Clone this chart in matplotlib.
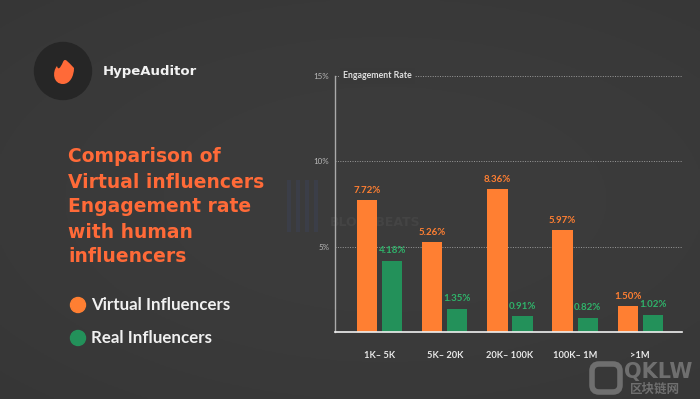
import numpy as np
import matplotlib
matplotlib.use("Agg")
import matplotlib.pyplot as plt
from matplotlib.patches import Circle, PathPatch, FancyBboxPatch
from matplotlib.path import Path

categories = ["1K\u2013 5K", "5K\u2013 20K", "20K\u2013 100K", "100K\u2013 1M", ">1M"]
virtual = [7.72, 5.26, 8.36, 5.97, 1.50]
real = [4.18, 1.35, 0.91, 0.82, 1.02]
yticks = [5, 10, 15]
ytick_labels = ["5%", "10%", "15%"]
series_names = ["Virtual Influencers", "Real Influencers"]

ORANGE = "#ff7f32"
GREEN = "#23915a"
TITLE_ORANGE = "#ff6a38"
BG = "#3a3a3a"
FONT = ["Lato", "DejaVu Sans"]
BOLDFONT = ["DejaVu Sans"]

fig = plt.figure(figsize=(7.0, 3.99), dpi=100)
fig.patch.set_facecolor(BG)

# background gradient
bg = fig.add_axes([0, 0, 1, 1], zorder=-10)
yy, xx = np.mgrid[0:1:200j, 0:1:350j]
grad = 0.235 - 0.03 * ((xx - 0.55) ** 2 * 1.2 + (yy - 0.5) ** 2 * 1.5)
bg.imshow(np.dstack([grad, grad, grad]), extent=[0, 1, 0, 1], aspect="auto", origin="lower")
bg.set_xlim(0, 1)
bg.set_ylim(0, 1)
bg.axis("off")
# faint watermark behind chart
bg.text(330 / 700, 1 - 223 / 399, "BLOCKBEATS", fontsize=9, fontweight="bold", color="#444444",
        va="center", ha="left", family=BOLDFONT)
for i in range(4):
    bg.add_patch(FancyBboxPatch(((287 + i * 9) / 700, 1 - 232 / 399), 4 / 700, 52 / 399,
                                boxstyle="square,pad=0", facecolor="#3b3e48", edgecolor="none"))

# chart axes
ax = fig.add_axes([335 / 700, 67 / 399, 347 / 700, 256 / 399])
ax.set_facecolor("none")
x = np.arange(len(categories))
w = 0.31
off = 0.385 / 2
ax.bar(x - off, virtual, width=w, color=ORANGE, zorder=3)
ax.bar(x + off, real, width=w, color=GREEN, zorder=3)
for xi, v in zip(x, virtual):
    ax.annotate(f"{v:.2f}%", (xi - off, v), xytext=(0, 4), textcoords="offset points",
                ha="center", va="bottom", color=ORANGE, fontsize=7, fontweight="bold", family=FONT)
for xi, v in zip(x, real):
    ax.annotate(f"{v:.2f}%", (xi + off, v), xytext=(0, 4), textcoords="offset points",
                ha="center", va="bottom", color="#2fb36a", fontsize=7, fontweight="bold", family=FONT)

ax.set_xlim(-0.685, 4.64)
ax.set_ylim(0, 15)
for t in yticks:
    ax.axhline(t, color="#9a9a9a", lw=0.7, ls=(0, (1, 1.5)), zorder=1)
ax.set_yticks(yticks)
ax.set_yticklabels(ytick_labels, family=FONT, fontsize=5.8, color="#b8b8b8")
ax.set_xticks(x)
ax.set_xticklabels(categories, family=FONT, fontsize=6.7, fontweight="bold", color="#e8e8e8")
ax.tick_params(axis="y", length=0, pad=4)
ax.tick_params(axis="x", length=0, pad=14)
for s in ["top", "right"]:
    ax.spines[s].set_visible(False)
ax.spines["left"].set_color("#aaaaaa")
ax.spines["left"].set_linewidth(1.0)
ax.spines["bottom"].set_color("#f0f0f0")
ax.spines["bottom"].set_linewidth(1.2)
ax.spines["bottom"].set_zorder(4)
ax.text(-0.56, 15, "Engagement Rate", fontsize=6.3, fontweight="bold", color="#e0e0e0",
        va="center", ha="left", family=FONT,
        bbox=dict(facecolor="#393939", edgecolor="none", pad=2.5), zorder=5)

# left panel
ov = fig.add_axes([0, 0, 1, 1], zorder=5)
ov.set_xlim(0, 700)
ov.set_ylim(399, 0)
ov.axis("off")
ov.set_facecolor("none")
ov.add_patch(Circle((63, 71), 28.5, color="#262626", zorder=2))
# flame icon
fl = Path([(63, 84), (53, 84), (52, 72), (57, 66), (58, 70), (60, 69), (63, 62), (65, 57),
           (68, 62), (74, 68), (74, 76), (70, 84), (63, 84)],
          [Path.MOVETO, Path.CURVE4, Path.CURVE4, Path.CURVE4, Path.CURVE4, Path.CURVE4, Path.CURVE4,
           Path.CURVE4, Path.CURVE4, Path.CURVE4, Path.CURVE4, Path.CURVE4, Path.CLOSEPOLY])
ov.add_patch(PathPatch(fl, facecolor=TITLE_ORANGE, edgecolor="none", zorder=3))
ov.text(103, 72, "HypeAuditor", fontsize=9.5, fontweight="bold", color="#f2f2f2", va="center",
        ha="left", family=BOLDFONT)

title_lines = ["Comparison of", "Virtual influencers", "Engagement rate", "with human", "influencers"]
for i, line in enumerate(title_lines):
    ov.text(68, 157 + i * 25, line, fontsize=13.5, fontweight="bold", color=TITLE_ORANGE,
            va="center", ha="left", family=BOLDFONT)

for yv, col, name in [(305, ORANGE, series_names[0]), (338, GREEN, series_names[1])]:
    ov.add_patch(Circle((78, yv), 7.5, color=col, zorder=3))
    ov.text(91, yv, name, fontsize=12.2, fontweight="bold", color="#f0f0f0", va="center",
            ha="left", family=FONT)

# corner watermark
ov.add_patch(FancyBboxPatch((594, 366), 24, 24, boxstyle="round,pad=2,rounding_size=7",
                            facecolor="none", edgecolor="#6f6f6f", lw=4))
ov.text(624, 372, "QKLW", fontsize=15, fontweight="bold", color="#6f6f6f", va="center",
        ha="left", family=BOLDFONT)
ov.text(630, 389, "区块链网", fontsize=9, fontweight="bold", color="#6f6f6f", va="center", ha="left",
        family=["Noto Sans CJK SC", "DejaVu Sans"])

fig.savefig("out.png", dpi=100, facecolor=fig.get_facecolor())
